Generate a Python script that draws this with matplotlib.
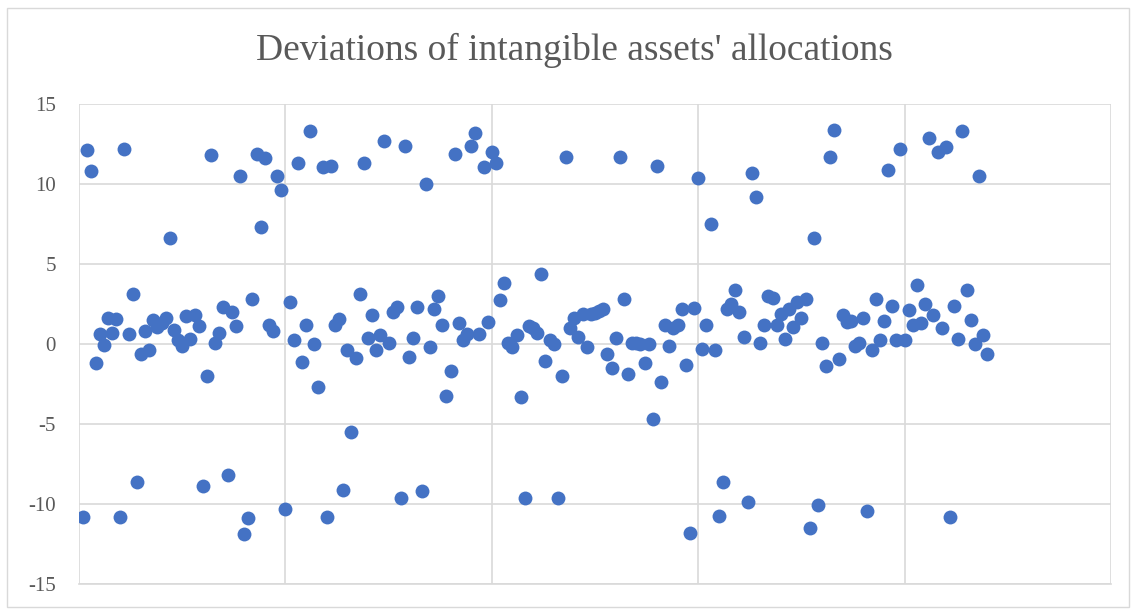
import numpy as np
import matplotlib.pyplot as plt
from matplotlib.patches import Rectangle

deviations = [
    -10.8, 12.1, 10.8, -1.2, 0.6, -0.05, 1.65, 0.7, 1.55, -10.8,
    12.2, 0.6, 3.1, -8.65, -0.6, 0.8, -0.4, 1.5, 1.05, 1.3,
    1.65, 6.6, 0.9, 0.25, -0.15, 1.75, 0.3, 1.8, 1.1, -8.9,
    -2.0, 11.8, 0.05, 0.7, 2.3, -8.2, 2.0, 1.15, 10.5, -11.9,
    -10.85, 2.8, 11.9, 7.3, 11.6, 1.2, 0.8, 10.5, 9.6, -10.3,
    2.6, 0.25, 11.3, -1.1, 1.2, 13.3, 0.0, -2.7, 11.05, -10.8,
    11.1, 1.2, 1.55, -9.1, -0.4, -5.5, -0.9, 3.1, 11.3, 0.4,
    1.8, -0.4, 0.55, 12.7, 0.05, 2.0, 2.3, -9.6, 12.4, -0.8,
    0.4, 2.3, -9.2, 10.0, -0.2, 2.2, 3.0, 1.2, -3.25, -1.7,
    11.85, 1.3, 0.25, 0.6, 12.4, 13.2, 0.6, 11.05, 1.35, 12.0,
    11.3, 2.75, 3.8, 0.05, -0.2, 0.55, -3.3, -9.6, 1.1, 1.0,
    0.7, 4.4, -1.05, 0.25, 0.0, -9.6, -2.0, 11.7, 1.0, 1.65,
    0.45, 1.85, -0.2, 1.9, 1.95, 2.05, 2.2, -0.6, -1.5, 0.4,
    11.7, 2.8, -1.9, 0.05, 0.05, 0.0, -1.2, 0.0, -4.7, 11.1,
    -2.4, 1.2, -0.15, 1.0, 1.2, 2.2, -1.3, -11.8, 2.25, 10.35,
    -0.3, 1.2, 7.5, -0.4, -10.75, -8.65, 2.2, 2.5, 3.4, 2.0,
    0.45, -9.85, 10.7, 9.2, 0.05, 1.2, 3.0, 2.9, 1.2, 1.85,
    0.3, 2.2, 1.05, 2.6, 1.65, 2.8, -11.5, 6.6, -10.05, 0.05,
    -1.35, 11.7, 13.4, -0.95, 1.8, 1.35, 1.45, -0.15, 0.05, 1.65,
    -10.45, -0.4, 2.8, 0.25, 1.45, 10.85, 2.35, 0.25, 12.2, 0.25,
    2.1, 1.2, 3.7, 1.3, 2.5, 12.9, 1.8, 12.0, 1.0, 12.3,
    -10.8, 2.35, 0.3, 13.3, 3.4, 1.5, 0.0, 10.5, 0.55, -0.65,
]
obs = np.arange(1, len(deviations) + 1)

y_ticks = [-15, -10, -5, 0, 5, 10, 15]
x_ticks = [0, 50, 100, 150, 200, 250]

plt.rcParams['font.family'] = ['Liberation Serif', 'DejaVu Serif']
plt.rcParams['axes.unicode_minus'] = False

fig = plt.figure(figsize=(11.36, 6.09), dpi=100)
W, H = 1136, 609
ax = fig.add_axes([79 / W, 1 - 584 / H, (1111 - 79) / W, (584 - 104) / H])

# chart border
fig.patches.append(Rectangle((7 / W, 2 / H), (1129 - 7) / W, (601 - 2) / H,
                             transform=fig.transFigure, fill=False,
                             edgecolor="#d9d9d9", linewidth=1.0))

ax.scatter(obs, deviations, s=100, color="#4472C4", linewidths=0, zorder=3)

ax.set_xlim(0, 250)
ax.set_ylim(-15, 15)
ax.set_xticks(x_ticks)
ax.set_yticks(y_ticks)
ax.set_xticklabels([])
ax.grid(True, color="#d9d9d9", linewidth=1.2, zorder=0)
ax.set_axisbelow(True)
for side in ["top", "right", "left"]:
    ax.spines[side].set_visible(False)
ax.spines["bottom"].set_color("#d9d9d9")
ax.spines["bottom"].set_linewidth(1.2)
ax.tick_params(axis="both", length=0, labelsize=15, labelcolor="#595959", pad=16.5)

fig.text(574 / W, 1 - 50 / H, "Deviations of intangible assets' allocations",
         ha="center", va="center", fontsize=27, color="#595959")

fig.savefig("out.png", dpi=100)
